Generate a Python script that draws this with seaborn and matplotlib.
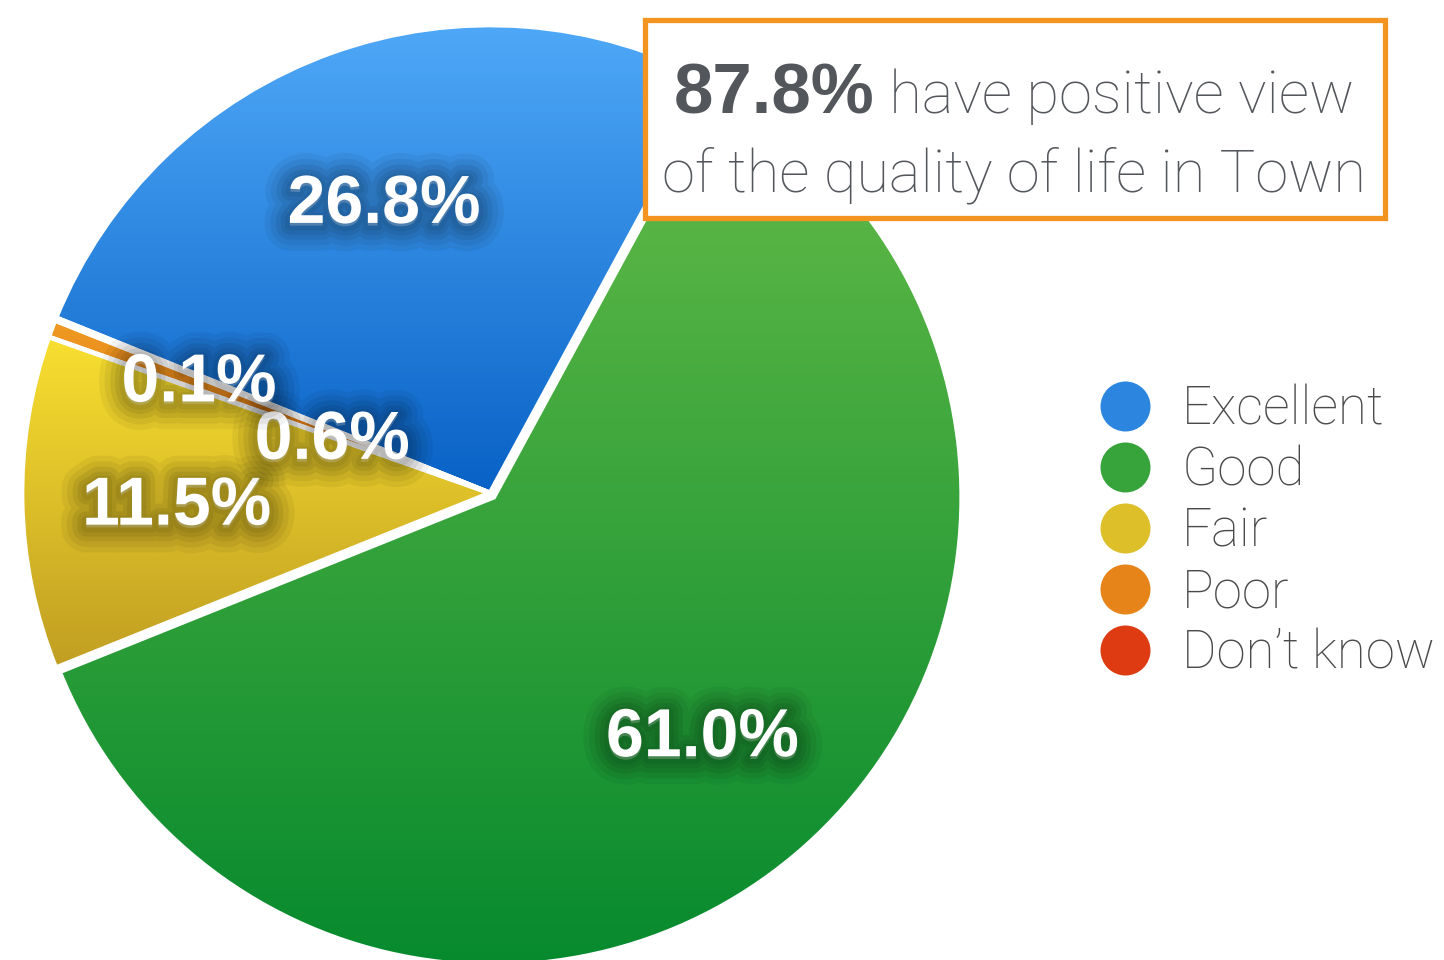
import numpy as np
import pandas as pd
import matplotlib
matplotlib.use("Agg")
import matplotlib.pyplot as plt
import seaborn as sns
from matplotlib import patheffects as pe
from matplotlib.patches import Rectangle, Wedge
from matplotlib.lines import Line2D
from matplotlib.colors import LinearSegmentedColormap, to_rgb
from matplotlib import font_manager as fm

# Data
categories = ["Excellent", "Good", "Fair", "Poor", "Don\u2019t know"]
shares = [26.8, 61.0, 11.5, 0.6, 0.1]
top_colors = ["#4FA8F7", "#66BC48", "#F8DF30", "#EF9A22", "#F24C1C"]
bottom_colors = ["#0862C6", "#078A2E", "#C19E22", "#DD6E12", "#C9290A"]
label_dist = [0.67, 0.67, 0.67, 0.36, 0.67]
positive_share = shares[0] + shares[1]

sns.set_theme(style="white")
installed = {f.name for f in fm.fontManager.ttflist}
light_font = next((f for f in ["Roboto", "Open Sans", "Lato", "Inter"] if f in installed), "DejaVu Sans")
plt.rcParams["font.family"] = [light_font, "DejaVu Sans"]

W, H = 1444, 960
fig = plt.figure(figsize=(W / 100, H / 100), dpi=100)
fig.patch.set_facecolor("white")
lim = 1.03
side = 468 * lim
ax = fig.add_axes([(490 - side) / W, (H - 493 - side) / H, 2 * side / W, 2 * side / H])

# soft dark halo behind the white percentages
shadow = [pe.Stroke(linewidth=w, foreground="black", alpha=a, offset=(0, -2))
          for w, a in [(36, 0.05), (28, 0.06), (20, 0.07), (13, 0.07), (7, 0.06)]]
shadow.append(pe.Normal())

wedges, texts, autotexts = ax.pie(
    shares, startangle=158, counterclock=False,
    explode=[0, 0.012, 0, 0, 0],
    colors=bottom_colors,
    autopct="%.1f%%", pctdistance=0.67,
    wedgeprops=dict(linewidth=0),
    textprops=dict(color="white", fontsize=49, fontweight="bold",
                   family="Liberation Sans"))

# vertical gradient inside every slice
grad = np.linspace(0, 1, 256).reshape(-1, 1)
for w, top, bot in zip(wedges, top_colors, bottom_colors):
    ext = w.get_path().get_extents()
    cmap = LinearSegmentedColormap.from_list("g", [bot, top])
    im = ax.imshow(grad, extent=[ext.x0, ext.x1, ext.y0, ext.y1], origin="lower",
                   cmap=cmap, aspect="auto", zorder=1, interpolation="bicubic")
    im.set_clip_path(w)
    w.set_facecolor("none")
    ax.add_patch(Wedge(w.center, w.r, w.theta1, w.theta2, fill=False,
                       edgecolor="white", linewidth=3.4, zorder=2))

for t, d, w in zip(autotexts, label_dist, wedges):
    ang = np.deg2rad((w.theta1 + w.theta2) / 2)
    t.set_position((w.center[0] + d * np.cos(ang), w.center[1] + d * np.sin(ang)))
    t.set_va("center_baseline")
    t.set_zorder(5)
    t.set_path_effects(shadow)

ax.set_xlim(-lim, lim)
ax.set_ylim(-lim, lim)
ax.set_aspect("equal")
ax.axis("off")

# legend
handles = [Line2D([], [], marker="o", linestyle="", markersize=36,
                  markerfacecolor=tuple((np.array(to_rgb(t)) + np.array(to_rgb(b))) / 2),
                  markeredgecolor="none")
           for t, b in zip(top_colors, bottom_colors)]
leg = fig.legend(handles, categories, loc="center left",
                 bbox_to_anchor=(1100 / W, 1 - 532 / H), frameon=False,
                 fontsize=38, handlelength=0.95, handletextpad=0.6,
                 labelspacing=0.18, borderpad=0, borderaxespad=0)
for txt in leg.get_texts():
    txt.set_color("#4A4A4A")
    txt.set_fontweight("light")

# callout box
fig.add_artist(Rectangle((645 / W, 1 - 218 / H), 740 / W, 198 / H,
                         transform=fig.transFigure, facecolor="white",
                         edgecolor="#F39320", linewidth=3.8, zorder=10))
box_color = "#53565B"
t1 = fig.text(0, 1 - 113 / H, f"{positive_share:.1f}%", fontsize=51, fontweight="bold",
              family="Liberation Sans", color=box_color, va="baseline", zorder=11)
t2 = fig.text(0, 1 - 113 / H, " have positive view", fontsize=43, fontweight="light",
              color=box_color, va="baseline", zorder=11)
fig.text(1014 / W, 1 - 192 / H, "of the quality of life in Town", fontsize=43,
         fontweight="light", color=box_color, va="baseline", ha="center", zorder=11)
fig.canvas.draw()
r = fig.canvas.get_renderer()
w1 = t1.get_window_extent(r).width
w2 = t2.get_window_extent(r).width
start = 1014 - (w1 + w2) / 2
t1.set_x(start / W)
t2.set_x((start + w1) / W)

fig.savefig("out.png", dpi=100)
